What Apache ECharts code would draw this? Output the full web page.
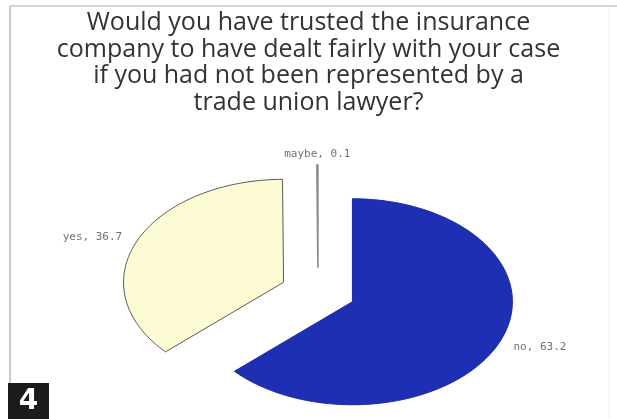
<!DOCTYPE html>
<html>
<head>
<meta charset="utf-8">
<script src="https://cdn.jsdelivr.net/npm/echarts@6/dist/echarts.min.js"></script>
<style>
  html, body { margin: 0; padding: 0; background: #ffffff; }
  #chart { width: 617px; height: 419px; }
</style>
</head>
<body>
<div id="chart"></div>
<script>
// Survey answers, drawn clockwise from 12 o'clock
const categories = ['no', 'yes', 'maybe'];
const values = [63.2, 36.7, 0.1];
const sliceColors = ['#1f2fb4', '#fdfbd4', '#ffffff'];
const sliceBorders = ['#1b2aa6', '#5a5a5a', '#8a8a8a'];
const titleLines = [
  'Would you have trusted the insurance',
  'company to have dealt fairly with your case',
  'if you had not been represented by a',
  'trade union lawyer?'
];

const total = values.reduce((a, b) => a + b, 0);
const starts = [];
let acc = 0;
values.forEach(v => { starts.push(acc); acc += v; });

// Slices are pulled out of the centre by this fraction of the radius
const EXPLODE = 0.235;
const LABEL_R = 1.1;

function renderSlice(params, api) {
  const i = params.dataIndex;
  const v = api.value(1);
  const a0 = starts[i] / total * Math.PI * 2;
  const a1 = (starts[i] + v) / total * Math.PI * 2;
  const mid = (a0 + a1) / 2;
  const cx = EXPLODE * Math.sin(mid);
  const cy = EXPLODE * Math.cos(mid);
  const pts = [api.coord([cx, cy])];
  const steps = Math.max(2, Math.ceil((a1 - a0) / 0.02));
  for (let k = 0; k <= steps; k++) {
    const t = a0 + (a1 - a0) * k / steps;
    pts.push(api.coord([cx + Math.sin(t), cy + Math.cos(t)]));
  }
  const lp = api.coord([cx + LABEL_R * Math.sin(mid), cy + LABEL_R * Math.cos(mid)]);
  const s = Math.sin(mid);
  const align = Math.abs(s) < 0.2 ? 'center' : (s > 0 ? 'left' : 'right');
  return {
    type: 'group',
    children: [
      {
        type: 'polygon',
        shape: { points: pts },
        style: {
          fill: sliceColors[i],
          stroke: sliceBorders[i],
          lineWidth: i === 2 ? 1.6 : 1,
          lineJoin: 'bevel'
        }
      },
      {
        type: 'text',
        x: lp[0],
        y: lp[1],
        style: {
          text: categories[i] + ', ' + values[i],
          align: align,
          verticalAlign: 'middle',
          fill: '#707070',
          font: '11px "DejaVu Sans Mono", monospace'
        }
      }
    ]
  };
}

const chart = echarts.init(document.getElementById('chart'), null, { renderer: 'canvas' });
chart.setOption({
  backgroundColor: '#ffffff',
  animation: false,
  title: {
    text: titleLines.join('\n'),
    left: 'center',
    top: 5,
    textStyle: {
      fontFamily: '"Open Sans", "Noto Sans", sans-serif',
      fontSize: 25,
      fontWeight: 'normal',
      lineHeight: 26.5,
      color: '#333333'
    }
  },
  grid: { left: 158, top: 189, width: 320, height: 206 },
  xAxis: { type: 'value', min: -1, max: 1, show: false },
  yAxis: { type: 'value', min: -1, max: 1, show: false },
  series: [{
    type: 'custom',
    clip: false,
    renderItem: renderSlice,
    data: values.map((v, i) => [i, v])
  }],
  graphic: [
    { type: 'line', shape: { x1: 10, y1: 6, x2: 617, y2: 6 }, style: { stroke: '#c4c4c4', lineWidth: 1.5 } },
    { type: 'line', shape: { x1: 10, y1: 6, x2: 10, y2: 383 }, style: { stroke: '#b8b8b8', lineWidth: 1.5 } },
    { type: 'line', shape: { x1: 609, y1: 6, x2: 609, y2: 419 }, style: { stroke: '#eeeeee', lineWidth: 1 } },
    { type: 'rect', shape: { x: 8, y: 383, width: 41, height: 36 }, style: { fill: '#1c1c1c' } },
    {
      type: 'text', x: 28.5, y: 402,
      style: { text: '4', align: 'center', verticalAlign: 'middle', fill: '#ffffff',
               font: 'bold 28px "DejaVu Sans", sans-serif' }
    }
  ]
});
</script>
</body>
</html>
